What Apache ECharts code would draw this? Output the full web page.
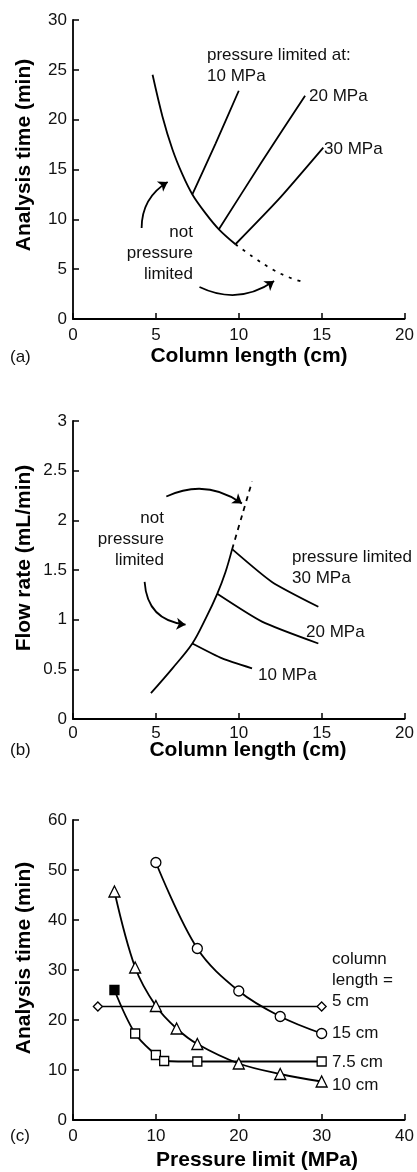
<!DOCTYPE html>
<html>
<head>
<meta charset="utf-8">
<script src="https://cdn.jsdelivr.net/npm/echarts@6/dist/echarts.min.js"></script>
<style>
html, body { margin: 0; padding: 0; background: #fff; }
#chart { width: 417px; height: 1172px; }
</style>
</head>
<body>
<div id="chart"></div>
<script>
// (a) analysis time (min) vs column length (cm)
var aMainX = [4.8, 5.4, 6.0, 6.6, 7.2, 8.0, 8.8, 9.8];
var aMainY = [24.5, 20.3, 17.0, 14.5, 12.5, 10.6, 9.0, 7.5];
var aDashX = [9.8, 10.8, 12.0, 13.0, 14.0];
var aDashY = [7.5, 6.3, 5.0, 4.2, 3.65];
var a10X = [7.2, 8.6, 10.0],  a10Y = [12.5, 17.6, 22.9];
var a20X = [8.8, 11.4, 14.0], a20Y = [9.0, 15.8, 22.4];
var a30X = [9.8, 12.4, 15.1], a30Y = [7.5, 12.0, 17.2];

// (b) flow rate (mL/min) vs column length (cm)
var bMainX = [4.7, 6.0, 7.2, 8.0, 8.7, 9.2, 9.6];
var bMainY = [0.26, 0.51, 0.76, 1.01, 1.26, 1.48, 1.71];
var bDashX = [9.6, 10.2, 10.8];
var bDashY = [1.71, 2.05, 2.39];
var b10X = [7.2, 9.0, 10.8],  b10Y = [0.76, 0.61, 0.51];
var b20X = [8.7, 11.4, 14.8], b20Y = [1.26, 0.98, 0.76];
var b30X = [9.6, 12.0, 14.8], b30Y = [1.71, 1.38, 1.13];

// (c) analysis time (min) vs pressure limit (MPa), one line per column length
var c5X = [3, 30],  c5Y = [22.7, 22.7];
var c15X = [10, 15, 20, 25, 30];
var c15Y = [51.5, 34.3, 25.8, 20.7, 17.3];
var c10X = [5, 7.5, 10, 12.5, 15, 20, 25, 30];
var c10Y = [45.7, 30.5, 22.8, 18.3, 15.2, 11.3, 9.2, 7.7];
var c75X = [5, 7.5, 10, 11, 15, 30];
var c75Y = [26.0, 17.3, 13.0, 11.8, 11.7, 11.7];

// curved "not pressure limited" arrows, [x, y] from -> to, and their bend
var aArrows = [[[4.14, 9.13], [5.71, 13.75]], [[7.63, 3.21], [12.13, 3.81]]];
var aBends = [0.28, -0.29];
var bArrows = [[[5.63, 2.24], [10.19, 2.17]], [[4.32, 1.38], [6.79, 0.95]]];
var bBends = [0.29, -0.42];

var FONT = 'Liberation Sans, Arial, sans-serif';
var chart = echarts.init(document.getElementById('chart'));

function pairs(xs, ys) {
    return xs.map(function (x, i) { return [x, ys[i]]; });
}

function xAx(idx, max, step, margin) {
    return {
        type: 'value', gridIndex: idx, min: 0, max: max, interval: step,
        axisLine: {show: true, onZero: false, lineStyle: {color: '#000', width: 1.8}},
        axisTick: {show: true, inside: true, length: 6, lineStyle: {color: '#000', width: 1.5}},
        axisLabel: {color: '#111', fontSize: 17, fontFamily: FONT, margin: margin},
        splitLine: {show: false}
    };
}

function curve(idx, xs, ys, extra) {
    var s = {
        type: 'line', xAxisIndex: idx, yAxisIndex: idx,
        data: pairs(xs, ys), symbol: 'none', smooth: 0.35,
        lineStyle: {color: '#000', width: 1.8}, silent: true
    };
    for (var k in extra) s[k] = extra[k];
    return s;
}

function arrows(idx, list, bends) {
    return {
        type: 'lines', coordinateSystem: 'cartesian2d',
        xAxisIndex: idx, yAxisIndex: idx, silent: true,
        symbol: ['none', 'arrow'], symbolSize: 9,
        lineStyle: {color: '#000', width: 1.8, opacity: 1},
        data: list.map(function (ar, i) {
            return {coords: ar, lineStyle: {curveness: bends[i]}};
        })
    };
}

function txt(x, y, text, align, extra) {
    var el = {
        type: 'text', x: x, y: y, silent: true,
        style: {
            text: text, x: 0, y: 0, fill: '#111',
            font: '17px ' + FONT, lineHeight: 21,
            textAlign: align, align: align,
            textVerticalAlign: 'middle', verticalAlign: 'middle'
        }
    };
    for (var k in extra) el[k] = extra[k];
    return el;
}
function title(x, y, text, rot) {
    var el = txt(x, y, text, 'center', rot ? {rotation: Math.PI / 2} : {});
    el.style.font = 'bold 21px ' + FONT;
    el.style.fill = '#000';
    return el;
}

var dashA = {color: '#000', width: 1.8, type: [3, 6]};
var dashB = {color: '#000', width: 1.8, type: [5, 5]};
var openMark = {color: '#fff', borderColor: '#000', borderWidth: 1.3};

var c75Data = pairs(c75X, c75Y);
c75Data[0] = {value: c75Data[0], itemStyle: {color: '#000', borderColor: '#000'}};

var option = {
    animation: false,
    backgroundColor: '#fff',
    grid: [
        {left: 73, top: 20, width: 333, height: 299},
        {left: 73, top: 421, width: 333, height: 298},
        {left: 73, top: 820, width: 333, height: 300}
    ],
    xAxis: [xAx(0, 20, 5, 8), xAx(1, 20, 5, 6), xAx(2, 40, 10, 8)],
    yAxis: [xAx(0, 30, 5, 6), xAx(1, 3, 0.5, 6), xAx(2, 60, 10, 6)],
    series: [
        curve(0, aMainX, aMainY),
        curve(0, aDashX, aDashY, {lineStyle: dashA}),
        curve(0, a10X, a10Y, {smooth: 0.2}),
        curve(0, a20X, a20Y, {smooth: 0.2}),
        curve(0, a30X, a30Y, {smooth: 0.2}),
        arrows(0, aArrows, aBends),

        curve(1, bMainX, bMainY),
        curve(1, bDashX, bDashY, {lineStyle: dashB}),
        curve(1, b10X, b10Y, {smooth: 0.2}),
        curve(1, b20X, b20Y, {smooth: 0.2}),
        curve(1, b30X, b30Y, {smooth: 0.2}),
        arrows(1, bArrows, bBends),

        curve(2, c5X, c5Y, {symbol: 'diamond', symbolSize: 9, showSymbol: true, itemStyle: openMark, lineStyle: {color: '#000', width: 1.5}}),
        curve(2, c15X, c15Y, {symbol: 'circle', symbolSize: 10, showSymbol: true, itemStyle: openMark}),
        curve(2, c10X, c10Y, {symbol: 'triangle', symbolSize: 11, showSymbol: true, itemStyle: openMark}),
        curve(2, c75X, c75Y, {data: c75Data, symbol: 'rect', symbolSize: 9, showSymbol: true, itemStyle: openMark})
    ],
    graphic: [
        // (a)
        txt(207, 55, 'pressure limited at:', 'left'),
        txt(207, 76, '10 MPa', 'left'),
        txt(309, 96, '20 MPa', 'left'),
        txt(324, 149, '30 MPa', 'left'),
        txt(193, 253, 'not\npressure\nlimited', 'right'),
        title(24, 155, 'Analysis time (min)', true),
        title(249, 356, 'Column length (cm)'),
        txt(10, 357, '(a)', 'left'),
        // (b)
        txt(292, 557, 'pressure limited at:', 'left'),
        txt(292, 578, '30 MPa', 'left'),
        txt(306, 632, '20 MPa', 'left'),
        txt(258, 675, '10 MPa', 'left'),
        txt(164, 539, 'not\npressure\nlimited', 'right'),
        title(24, 558, 'Flow rate (mL/min)', true),
        title(248, 750, 'Column length (cm)'),
        txt(10, 750, '(b)', 'left'),
        // (c)
        txt(332, 980, 'column\nlength =\n5 cm', 'left'),
        txt(332, 1033, '15 cm', 'left'),
        txt(332, 1062, '7.5 cm', 'left'),
        txt(332, 1085, '10 cm', 'left'),
        title(24, 958, 'Analysis time (min)', true),
        title(257, 1160, 'Pressure limit (MPa)'),
        txt(10, 1136, '(c)', 'left')
    ]
};

chart.setOption(option);
</script>
</body>
</html>
